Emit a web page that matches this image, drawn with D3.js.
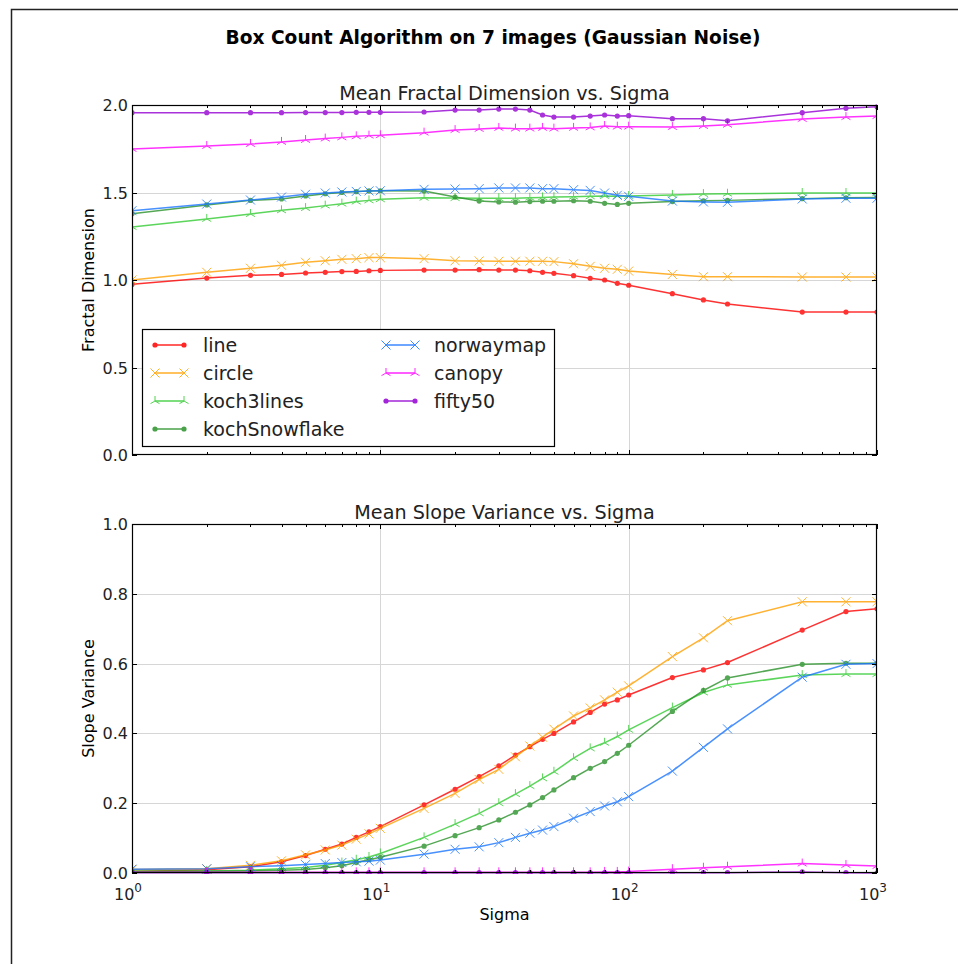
<!DOCTYPE html>
<html>
<head>
<meta charset="utf-8">
<script src="https://cdn.jsdelivr.net/npm/d3@7"></script>
<style>
body { margin:0; background:#fff; }
text { font-family:"DejaVu Sans", sans-serif; fill:#000; }
</style>
</head>
<body>
<div id="chart"></div>
<script>
// sigma values (x axis, log)
var sigma = [1,2,3,4,5,6,7,8,9,10,15,20,25,30,35,40,45,50,60,70,80,90,100,150,200,250,500,750,1000];

var names = ["line","circle","koch3lines","kochSnowflake","norwaymap","canopy","fifty50"];
var colors = ["#ff0000","#ffa000","#33cc33","#2a922a","#1a75ff","#ff00ff","#9400d3"];
var markers = ["dot","x","tri","dot","x","tri","dot"];

// mean fractal dimension
var fdLine = [0.975,1.011,1.027,1.032,1.040,1.044,1.048,1.049,1.053,1.055,1.057,1.057,1.059,1.057,1.057,1.053,1.044,1.038,1.025,1.010,1.000,0.981,0.970,0.922,0.886,0.863,0.817,0.817,0.817];
var fdCircle = [1.000,1.044,1.067,1.084,1.101,1.110,1.118,1.122,1.128,1.128,1.122,1.110,1.109,1.107,1.107,1.107,1.107,1.105,1.093,1.078,1.067,1.061,1.051,1.032,1.019,1.019,1.017,1.017,1.017];
var fdKoch3 = [1.303,1.349,1.377,1.398,1.411,1.425,1.436,1.448,1.455,1.461,1.470,1.468,1.467,1.467,1.467,1.470,1.472,1.474,1.476,1.478,1.480,1.479,1.480,1.486,1.491,1.493,1.497,1.497,1.497];
var fdSnow = [1.379,1.429,1.455,1.463,1.480,1.493,1.500,1.505,1.509,1.510,1.509,1.474,1.451,1.446,1.445,1.448,1.450,1.450,1.453,1.450,1.438,1.432,1.438,1.448,1.453,1.455,1.465,1.470,1.472];
var fdNorway = [1.396,1.434,1.457,1.474,1.490,1.497,1.503,1.506,1.509,1.510,1.518,1.520,1.522,1.526,1.526,1.526,1.522,1.522,1.516,1.512,1.497,1.484,1.478,1.451,1.446,1.444,1.463,1.467,1.467];
var fdCanopy = [1.749,1.766,1.777,1.789,1.800,1.808,1.815,1.821,1.825,1.827,1.842,1.857,1.863,1.869,1.865,1.865,1.869,1.865,1.869,1.872,1.880,1.876,1.876,1.874,1.880,1.887,1.920,1.931,1.937];
var fdFifty = [1.956,1.956,1.956,1.956,1.957,1.957,1.957,1.958,1.958,1.958,1.960,1.971,1.971,1.977,1.977,1.971,1.943,1.931,1.931,1.937,1.943,1.937,1.939,1.922,1.922,1.910,1.956,1.981,1.990];

// mean slope variance
var svLine = [0.004,0.009,0.018,0.032,0.050,0.068,0.083,0.102,0.118,0.133,0.195,0.240,0.276,0.307,0.338,0.362,0.383,0.400,0.433,0.460,0.484,0.496,0.510,0.560,0.582,0.603,0.696,0.749,0.757];
var svCircle = [0.010,0.012,0.022,0.035,0.052,0.066,0.080,0.097,0.112,0.128,0.185,0.228,0.268,0.297,0.333,0.364,0.389,0.412,0.450,0.473,0.496,0.518,0.536,0.620,0.674,0.723,0.777,0.777,0.777];
var svKoch3 = [0.005,0.006,0.008,0.012,0.016,0.022,0.030,0.038,0.046,0.056,0.102,0.140,0.171,0.200,0.226,0.249,0.271,0.290,0.329,0.357,0.373,0.391,0.410,0.474,0.517,0.539,0.567,0.570,0.570];
var svSnow = [0.004,0.005,0.006,0.008,0.010,0.015,0.021,0.030,0.038,0.045,0.077,0.107,0.130,0.152,0.174,0.195,0.216,0.238,0.273,0.300,0.319,0.343,0.366,0.463,0.523,0.559,0.598,0.601,0.601];
var svNorway = [0.011,0.012,0.018,0.021,0.024,0.027,0.030,0.032,0.034,0.037,0.054,0.068,0.075,0.087,0.102,0.114,0.123,0.133,0.157,0.176,0.192,0.204,0.219,0.292,0.360,0.413,0.561,0.598,0.600];
var svCanopy = [0.002,0.002,0.002,0.002,0.002,0.002,0.002,0.002,0.002,0.002,0.002,0.002,0.002,0.002,0.002,0.002,0.002,0.002,0.002,0.002,0.003,0.003,0.004,0.011,0.015,0.018,0.027,0.023,0.020];
var svFifty = [0.001,0.001,0.001,0.001,0.001,0.001,0.001,0.001,0.001,0.001,0.001,0.001,0.001,0.001,0.001,0.001,0.001,0.001,0.001,0.001,0.001,0.001,0.001,0.001,0.001,0.001,0.003,0.001,0.000];

var fdSeries = [fdLine,fdCircle,fdKoch3,fdSnow,fdNorway,fdCanopy,fdFifty];
var svSeries = [svLine,svCircle,svKoch3,svSnow,svNorway,svCanopy,svFifty];

var xTicks = [1,10,100,1000];
var fdTicks = [0,0.5,1.0,1.5,2.0];
var svTicks = [0,0.2,0.4,0.6,0.8,1.0];

var W = 958, H = 964;
var left = 132, right = 877;

var svg = d3.select("#chart").append("svg").attr("width", W).attr("height", H);

// page frame (only top and left edges are visible)
svg.append("path").attr("d", "M11.5," + H + " L11.5,9.5 L" + W + ",9.5")
	.attr("fill", "none").attr("stroke", "#222").attr("stroke-width", 1.5);

svg.append("text").attr("x", 493).attr("y", 44).attr("text-anchor", "middle")
	.style("font-size", "18.6px").style("font-weight", "bold")
	.text("Box Count Algorithm on 7 images (Gaussian Noise)");

var x = d3.scaleLog().domain([1, 1000]).range([left, right]);

function markerPath(m)
{
	if(m == "x")
		return "M-4.5,-4.5L4.5,4.5M-4.5,4.5L4.5,-4.5";
	if(m == "tri")
		return "M0,0L0,-5M0,0L-4.5,2.6M0,0L4.5,2.6";
	return null;
}

function drawMarker(g, m, px, py, c)
{
	if(m == "dot")
		g.append("circle").attr("cx", px).attr("cy", py).attr("r", 2.6).attr("fill", c);
	else
		g.append("path").attr("d", markerPath(m)).attr("transform", "translate(" + px + "," + py + ")")
			.attr("fill", "none").attr("stroke", c).attr("stroke-width", 1);
}

function panel(id, top, bottom, yDomain, yTicks, series, title, ylabel, fmt, showX)
{
	var y = d3.scaleLinear().domain(yDomain).range([bottom, top]);
	var g = svg.append("g");

	g.append("clipPath").attr("id", "clip" + id).append("rect")
		.attr("x", left).attr("y", top - 1).attr("width", right - left).attr("height", bottom - top + 2);

	// grid
	g.selectAll(".gy").data(yTicks.slice(1, -1)).enter().append("line")
		.attr("x1", left).attr("x2", right)
		.attr("y1", function(d){ return Math.round(y(d)) + 0.5; })
		.attr("y2", function(d){ return Math.round(y(d)) + 0.5; })
		.attr("stroke", "#d6d6d6").attr("stroke-width", 1);
	g.selectAll(".gx").data(xTicks.slice(1, -1)).enter().append("line")
		.attr("x1", function(d){ return Math.round(x(d)) + 0.5; })
		.attr("x2", function(d){ return Math.round(x(d)) + 0.5; })
		.attr("y1", top).attr("y2", bottom)
		.attr("stroke", "#d6d6d6").attr("stroke-width", 1);

	// series
	var pg = g.append("g").attr("clip-path", "url(#clip" + id + ")");
	var line = d3.line().x(function(d, i){ return x(sigma[i]); }).y(function(d){ return y(d); });
	for(var k = 0; k < series.length; k++)
	{
		var s = pg.append("g").attr("opacity", 0.8);
		s.append("path").attr("d", line(series[k])).attr("fill", "none")
			.attr("stroke", colors[k]).attr("stroke-width", 1.5);
		for(var i = 0; i < sigma.length; i++)
			drawMarker(s, markers[k], x(sigma[i]), y(series[k][i]), colors[k]);
	}

	// frame
	g.append("rect").attr("x", left + 0.5).attr("y", top + 0.5)
		.attr("width", right - left - 1).attr("height", bottom - top - 1)
		.attr("fill", "none").attr("stroke", "#000").attr("stroke-width", 1.2);

	// x ticks (major + minor), inward on top and bottom
	var minor = [];
	for(var p = 1; p < 1000; p *= 10)
		for(var m = 2; m < 10; m++)
			minor.push(p * m);
	xTicks.forEach(function(d)
	{
		var px = Math.round(x(d)) + 0.5;
		g.append("line").attr("x1", px).attr("x2", px).attr("y1", bottom).attr("y2", bottom - 5).attr("stroke", "#000");
		g.append("line").attr("x1", px).attr("x2", px).attr("y1", top).attr("y2", top + 5).attr("stroke", "#000");
	});
	minor.forEach(function(d)
	{
		var px = Math.round(x(d)) + 0.5;
		g.append("line").attr("x1", px).attr("x2", px).attr("y1", bottom).attr("y2", bottom - 3).attr("stroke", "#000");
		g.append("line").attr("x1", px).attr("x2", px).attr("y1", top).attr("y2", top + 3).attr("stroke", "#000");
	});

	// y ticks and labels
	yTicks.forEach(function(d)
	{
		var py = Math.round(y(d)) + 0.5;
		g.append("line").attr("x1", left).attr("x2", left + 5).attr("y1", py).attr("y2", py).attr("stroke", "#000");
		g.append("line").attr("x1", right).attr("x2", right - 5).attr("y1", py).attr("y2", py).attr("stroke", "#000");
		g.append("text").attr("x", left - 4).attr("y", py + 5.5).attr("text-anchor", "end")
			.style("font-size", "16px").style("fill", "#222").text(fmt(d));
	});

	if(showX)
	{
		xTicks.forEach(function(d, i)
		{
			var t = g.append("text").attr("x", x(d) - 4).attr("y", bottom + 27).attr("text-anchor", "middle")
				.style("font-size", "16px").style("fill", "#222");
			t.append("tspan").text("10");
			t.append("tspan").attr("dy", -8).style("font-size", "12px").text(String(i));
		});
		g.append("text").attr("x", (left + right) / 2).attr("y", bottom + 47).attr("text-anchor", "middle")
			.style("font-size", "16px").text("Sigma");
	}

	g.append("text").attr("x", (left + right) / 2).attr("y", top - 5).attr("text-anchor", "middle")
		.style("font-size", "19.2px").style("fill", "#222").text(title);

	g.append("text").attr("transform", "translate(94," + ((top + bottom) / 2) + ") rotate(-90)")
		.attr("text-anchor", "middle").style("font-size", "16px").text(ylabel);

	return y;
}

var f1 = d3.format(".1f");
panel(1, 105, 455, [0, 2], fdTicks, fdSeries, "Mean Fractal Dimension vs. Sigma", "Fractal Dimension", f1, false);
panel(2, 524, 873, [0, 1], svTicks, svSeries, "Mean Slope Variance vs. Sigma", "Slope Variance", f1, true);

// legend
var lg = svg.append("g");
lg.append("rect").attr("x", 142.5).attr("y", 329.5).attr("width", 412).attr("height", 117)
	.attr("fill", "#fff").attr("stroke", "#000").attr("stroke-width", 1.2);
var rowY = [345, 373, 401, 429];
for(var k = 0; k < names.length; k++)
{
	var col = k < 4 ? 0 : 1;
	var row = k < 4 ? k : k - 4;
	var x0 = col == 0 ? 155 : 386;
	var ly = rowY[row];
	var e = lg.append("g").attr("opacity", 0.85);
	e.append("line").attr("x1", x0).attr("x2", x0 + 29).attr("y1", ly).attr("y2", ly)
		.attr("stroke", colors[k]).attr("stroke-width", 1.5);
	drawMarker(e, markers[k], x0, ly, colors[k]);
	drawMarker(e, markers[k], x0 + 29, ly, colors[k]);
	lg.append("text").attr("x", x0 + 48).attr("y", ly + 6.5).style("font-size", "19px").style("fill", "#222").text(names[k]);
}
</script>
</body>
</html>
